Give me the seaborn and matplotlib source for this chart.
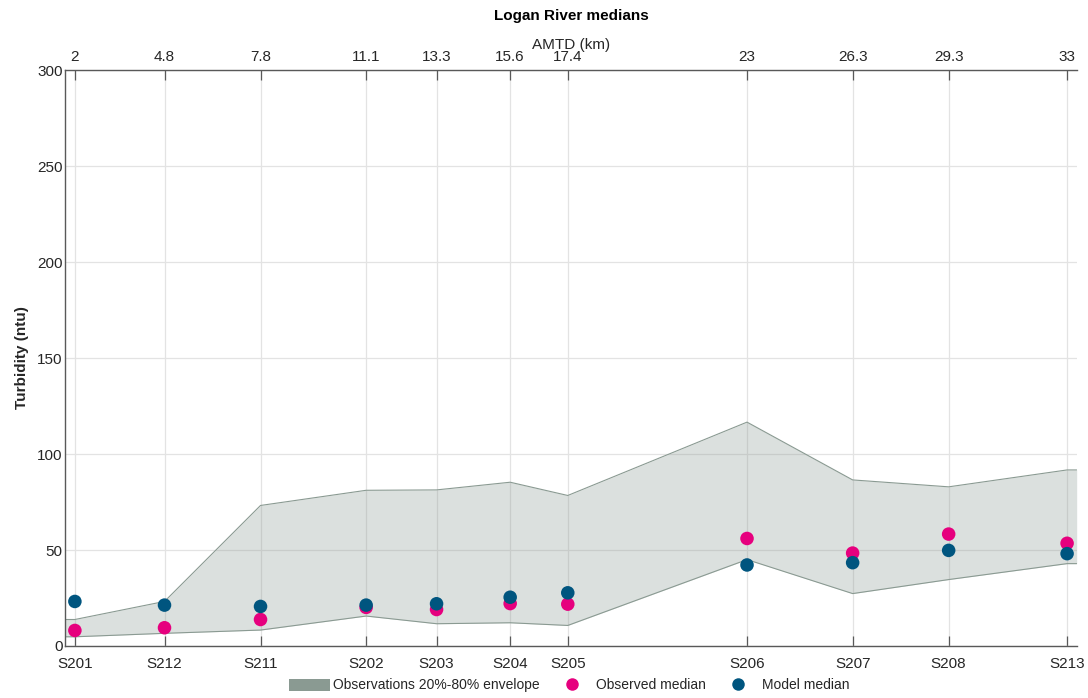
import numpy as np
import pandas as pd
import matplotlib
matplotlib.use("Agg")
import matplotlib.pyplot as plt
from matplotlib.patches import Patch
from matplotlib.lines import Line2D
import seaborn as sns

sns.set_theme(style="white")
plt.rcParams['font.family'] = ['Liberation Sans', 'DejaVu Sans']

sites = ["S201", "S212", "S211", "S202", "S203", "S204", "S205", "S206", "S207", "S208", "S213"]
amtd = [2, 4.8, 7.8, 11.1, 13.3, 15.6, 17.4, 23, 26.3, 29.3, 33]
amtd_labels = ["2", "4.8", "7.8", "11.1", "13.3", "15.6", "17.4", "23", "26.3", "29.3", "33"]
env_low = [4.8, 6.6, 8.3, 15.6, 11.6, 12.1, 10.7, 45.0, 27.3, 34.6, 42.9]
env_high = [13.8, 23.2, 73.2, 81.1, 81.3, 85.3, 78.4, 116.6, 86.5, 82.9, 91.7]
obs_median = [8.1, 9.5, 13.8, 20.1, 19.0, 22.1, 21.8, 56.0, 48.4, 58.3, 53.5]
model_median = [23.2, 21.3, 20.6, 21.3, 22.0, 25.4, 27.7, 42.2, 43.4, 49.8, 48.1]

env_color = "#8a9a92"
obs_color = "#e6007e"
mod_color = "#00557f"
txt = "#262626"
axc = "#595959"
fs = 11

fig = plt.figure(figsize=(10.88, 6.98), dpi=100)
ax = fig.add_axes([0.0600, 0.0745, 0.9296, 0.8252])

xlim = (1.7, 33.3)
ax.set_xlim(*xlim)
ax.set_ylim(0, 300)

# envelope (extended flat to the axes edges)
xe = np.r_[xlim[0], amtd, xlim[1]]
lo = np.r_[env_low[0], env_low, env_low[-1]]
hi = np.r_[env_high[0], env_high, env_high[-1]]
ax.fill_between(xe, lo, hi, color=env_color, alpha=0.3, linewidth=0, zorder=2)
ax.plot(xe, lo, color=env_color, lw=0.8, zorder=2.5)
ax.plot(xe, hi, color=env_color, lw=0.8, zorder=2.5)

df = pd.DataFrame({
    "amtd": amtd * 2,
    "value": obs_median + model_median,
    "series": ["Observed median"] * len(amtd) + ["Model median"] * len(amtd),
})
sns.scatterplot(data=df, x="amtd", y="value", hue="series",
                palette={"Observed median": obs_color, "Model median": mod_color},
                s=95, linewidth=0, legend=False, ax=ax, zorder=3)

ax.set_xticks(amtd)
ax.set_xticklabels(sites)
ax.set_yticks([0, 50, 100, 150, 200, 250, 300])
ax.grid(True, color="#e3e3e3", lw=0.9, zorder=0)
ax.set_axisbelow(True)
ax.tick_params(axis="both", direction="in", length=7, width=0.9, color=axc,
               labelsize=fs, labelcolor=txt)
ax.tick_params(axis="x", pad=8)
ax.tick_params(axis="y", pad=2)
for s in ["left", "bottom", "top"]:
    ax.spines[s].set_color(axc)
    ax.spines[s].set_linewidth(1.0)
ax.spines["right"].set_visible(False)
ax.set_xlabel("")
ax.set_ylabel("Turbidity (ntu)", fontsize=fs, fontweight="bold", color=txt, labelpad=6)

ax2 = ax.twiny()
ax2.set_xlim(*xlim)
ax2.set_xticks(amtd)
ax2.set_xticklabels(amtd_labels)
ax2.tick_params(axis="x", direction="in", length=7, width=0.9, color=axc,
                labelsize=fs, labelcolor=txt, pad=4)
for s in ax2.spines.values():
    s.set_visible(False)
ax2.set_xlabel("AMTD (km)", fontsize=fs, color=txt, labelpad=1)

fig.text(0.525, 0.977, "Logan River medians", ha="center", va="center",
         fontsize=fs, fontweight="bold", color="black")

handles = [
    Patch(facecolor=env_color, edgecolor="none", label="Observations 20%-80% envelope"),
    Line2D([], [], marker="o", ls="none", markersize=9, markerfacecolor=obs_color,
           markeredgewidth=0, label="Observed median"),
    Line2D([], [], marker="o", ls="none", markersize=9, markerfacecolor=mod_color,
           markeredgewidth=0, label="Model median"),
]
fig.legend(handles=handles, loc="center", bbox_to_anchor=(0.5234, 0.018), ncol=3,
           frameon=False, fontsize=10, columnspacing=0.9, handlelength=2.9,
           handleheight=0.95, handletextpad=0.25, labelcolor=txt,
           borderpad=0.2, borderaxespad=0)

fig.savefig("out.png", dpi=100)
